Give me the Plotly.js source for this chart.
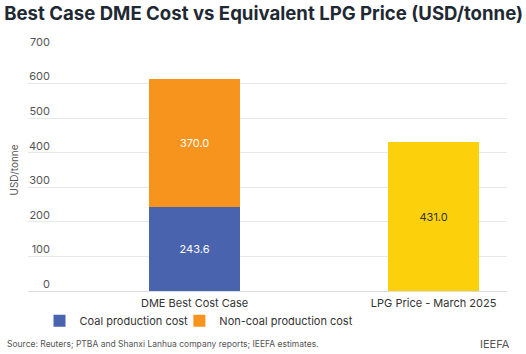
<!DOCTYPE html>
<html>
<head>
<meta charset="utf-8">
<script src="https://cdn.plot.ly/plotly-3.0.1.min.js"></script>
<style>html,body{margin:0;padding:0;background:#fff;}#chart{width:526px;height:354px;}</style>
</head>
<body>
<div id="chart"></div>
<script>
const categories = ["DME Best Cost Case", "LPG Price - March 2025"];
const coalCost = [243.6];
const nonCoalCost = [370.0];
const lpgPrice = [431.0];
const yTickVals = [0, 100, 200, 300, 400, 500, 600, 700];
const yTickText = ["0", "100", "200", "300", "400", "500", "600", "700"];
const seriesNames = ["Coal production cost", "Non-coal production cost"];

const FONT = "Inter, 'Noto Sans', sans-serif";

const traces = [
  {
    type: "bar", name: seriesNames[0], x: [categories[0]], y: coalCost,
    marker: {color: "#4a63ae"}, width: 0.38, legend: "legend",
    texttemplate: "%{y:.1f}", textposition: "inside", insidetextanchor: "middle",
    textfont: {color: "#ffffff", size: 11, family: FONT}, hoverinfo: "skip"
  },
  {
    type: "bar", name: seriesNames[1], x: [categories[0]], y: nonCoalCost,
    marker: {color: "#f7941d"}, width: 0.38, legend: "legend2",
    texttemplate: "%{y:.1f}", textposition: "inside", insidetextanchor: "middle",
    textfont: {color: "#ffffff", size: 11, family: FONT}, hoverinfo: "skip"
  },
  {
    type: "bar", name: "LPG", x: [categories[1]], y: lpgPrice, showlegend: false,
    marker: {color: "#fcd10c"}, width: 0.38,
    texttemplate: "%{y:.1f}", textposition: "inside", insidetextanchor: "middle",
    textfont: {color: "#333333", size: 11, family: FONT}, hoverinfo: "skip"
  }
];

const legendBase = {
  orientation: "h", xanchor: "left", y: -0.0635, yanchor: "top",
  font: {size: 11, color: "#333333"}, itemwidth: 30, bgcolor: "rgba(0,0,0,0)"
};

const layout = {
  width: 526, height: 354,
  margin: {l: 28, r: 19, t: 49, b: 63},
  paper_bgcolor: "#ffffff", plot_bgcolor: "#ffffff",
  barmode: "stack",
  font: {family: FONT, color: "#333333"},
  title: {
    text: "<b>Best Case DME Cost vs Equivalent LPG Price (USD/tonne)</b>",
    x: 0.008, xanchor: "left", y: 0.962, yanchor: "middle",
    font: {size: 18.6, color: "#1f2933", family: FONT}
  },
  xaxis: {
    type: "category", range: [-0.697, 1.307],
    showgrid: false, showline: false, zeroline: false,
    ticks: "", ticklabelstandoff: 4,
    tickfont: {size: 11, color: "#333333"}, fixedrange: true
  },
  yaxis: {
    range: [0, 700], tickvals: yTickVals, ticktext: yTickText,
    ticklabelposition: "outside", ticklabelstandoff: -23, ticklabelshift: -7,
    automargin: false,
    tickfont: {size: 11, color: "#555555"},
    showgrid: true, gridcolor: "#e8e8e8", gridwidth: 1,
    zeroline: true, zerolinecolor: "#dddddd", zerolinewidth: 1,
    showline: false, ticks: "",
    title: {text: "USD/tonne", font: {size: 10, color: "#555555"}, standoff: 8}
  },
  showlegend: true,
  legend: Object.assign({}, legendBase, {x: 0.024}),
  legend2: Object.assign({}, legendBase, {x: 0.316}),
  annotations: [
    {text: "Source: Reuters; PTBA and Shanxi Lanhua company reports; IEEFA estimates.",
     xref: "paper", yref: "paper", x: -0.048, y: -0.219, xanchor: "left", yanchor: "middle",
     showarrow: false, font: {size: 8.5, color: "#555555"}},
    {text: "IEEFA", xref: "paper", yref: "paper", x: 1.0104, y: -0.219, xanchor: "right", yanchor: "middle",
     showarrow: false, font: {size: 11, color: "#555555"}}
  ]
};

Plotly.newPlot("chart", traces, layout, {displayModeBar: false, staticPlot: true});
</script>
</body>
</html>
